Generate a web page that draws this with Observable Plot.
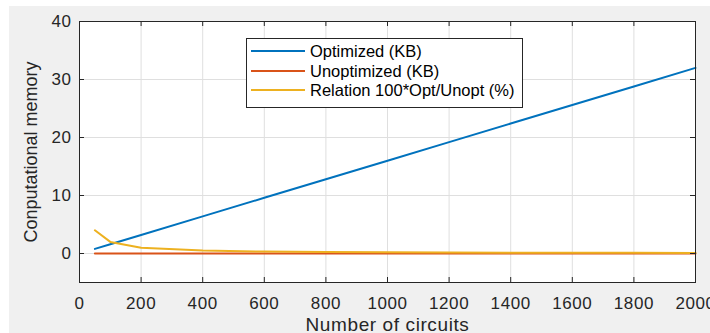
<!DOCTYPE html>
<html><head><meta charset="utf-8">
<script src="https://cdn.jsdelivr.net/npm/d3@7"></script>
<script src="https://cdn.jsdelivr.net/npm/@observablehq/plot@0.6"></script>
<style>
body{margin:0;background:#fff;}
#wrap{position:relative;width:710px;height:333px;overflow:hidden;}
#bg{position:absolute;left:9px;top:6px;right:0;bottom:0;background:#f0f0f0;}
#chart{position:absolute;left:0;top:0;}
#legend{position:absolute;left:246px;top:38px;width:275px;height:68px;background:#fff;border:1px solid #262626;font-family:"Liberation Sans",Arial,sans-serif;font-size:16.5px;color:#000;}
.row{position:absolute;left:0;height:20px;display:flex;align-items:center;white-space:nowrap;}
.sw{display:inline-block;width:54px;height:2px;margin-left:4px;margin-right:5px;}
#chart g[aria-label="x-axis tick label"], #chart g[aria-label="y-axis tick label"]{font-size:17px;letter-spacing:0.6px;fill:#262626;}
#chart g[aria-label="x-axis label"]{font-size:19px;letter-spacing:0.6px;fill:#262626;}
#chart g[aria-label="y-axis label"]{font-size:18px;fill:#262626;}
</style></head>
<body>
<div id="wrap"><div id="bg"></div><div id="chart"></div><div id="legend"></div></div>
<script>
const circuits = [50, 100, 200, 400, 600, 800, 1000, 1200, 1400, 1600, 1800, 2000];
const optimized = [0.8, 1.6, 3.2, 6.4, 9.6, 12.8, 16, 19.2, 22.4, 25.6, 28.8, 32];
const unoptimized = [0, 0, 0, 0, 0, 0, 0, 0, 0, 0, 0, 0];
const relation = [4, 2, 1, 0.5, 0.33, 0.25, 0.2, 0.17, 0.14, 0.13, 0.11, 0.1];
const seriesNames = ["Optimized (KB)", "Unoptimized (KB)", "Relation 100*Opt/Unopt (%)"];
const seriesColors = ["#0072BD", "#D95319", "#EDB120"];
const xTicks = [0, 200, 400, 600, 800, 1000, 1200, 1400, 1600, 1800, 2000];
const yTicks = [0, 10, 20, 30, 40];
const yDomain = [-5, 40];
const xDomain = [0, 2000];

const seriesValues = [optimized, unoptimized, relation];
const data = seriesNames.flatMap((s, k) => circuits.map((c, i) => ({c, v: seriesValues[k][i], s})));

const W = 710, H = 333, mL = 79, mR = 15, mT = 21, mB = 51;
const pw = W - mL - mR, ph = H - mT - mB, tk = 5;
const axisCol = "#262626";

const chart = Plot.plot({
  width: W, height: H, marginLeft: mL, marginRight: mR, marginTop: mT, marginBottom: mB,
  style: {background: "transparent", fontFamily: "'Liberation Sans', Arial, sans-serif", color: axisCol, overflow: "visible"},
  x: {domain: xDomain},
  y: {domain: yDomain},
  color: {domain: seriesNames, range: seriesColors},
  marks: [
    Plot.frame({fill: "white"}),
    Plot.gridX(xTicks, {stroke: "#dfdfdf", strokeOpacity: 1}),
    Plot.gridY(yTicks, {stroke: "#dfdfdf", strokeOpacity: 1}),
    Plot.line(data, {x: "c", y: "v", z: "s", stroke: "s", strokeWidth: 2}),
    Plot.tickX(xTicks, {x: d => d, insetTop: ph - tk, stroke: axisCol}),
    Plot.tickX(xTicks, {x: d => d, insetBottom: ph - tk, stroke: axisCol}),
    Plot.tickY(yTicks, {y: d => d, insetRight: pw - tk, stroke: axisCol}),
    Plot.tickY(yTicks, {y: d => d, insetLeft: pw - tk, stroke: axisCol}),
    Plot.frame({stroke: axisCol}),
    Plot.axisX({ticks: xTicks, tickFormat: d => String(d), tickSize: 0, tickPadding: 14, label: "Number of circuits", labelArrow: "none", labelAnchor: "center", labelOffset: 48}),
    Plot.axisY({ticks: yTicks, tickFormat: d => String(d), tickSize: 0, tickPadding: 8, label: "Conputational memory", labelArrow: "none", labelAnchor: "center", labelOffset: 55})
  ]
});
document.getElementById("chart").appendChild(chart);

const legend = document.getElementById("legend");
const rowTops = [2, 22, 41];
seriesNames.forEach((n, i) => {
  const r = document.createElement("div");
  r.className = "row";
  r.style.top = rowTops[i] + "px";
  const sw = document.createElement("span");
  sw.className = "sw";
  sw.style.background = seriesColors[i];
  const t = document.createElement("span");
  t.textContent = n;
  r.appendChild(sw); r.appendChild(t);
  legend.appendChild(r);
});
</script>
</body></html>
